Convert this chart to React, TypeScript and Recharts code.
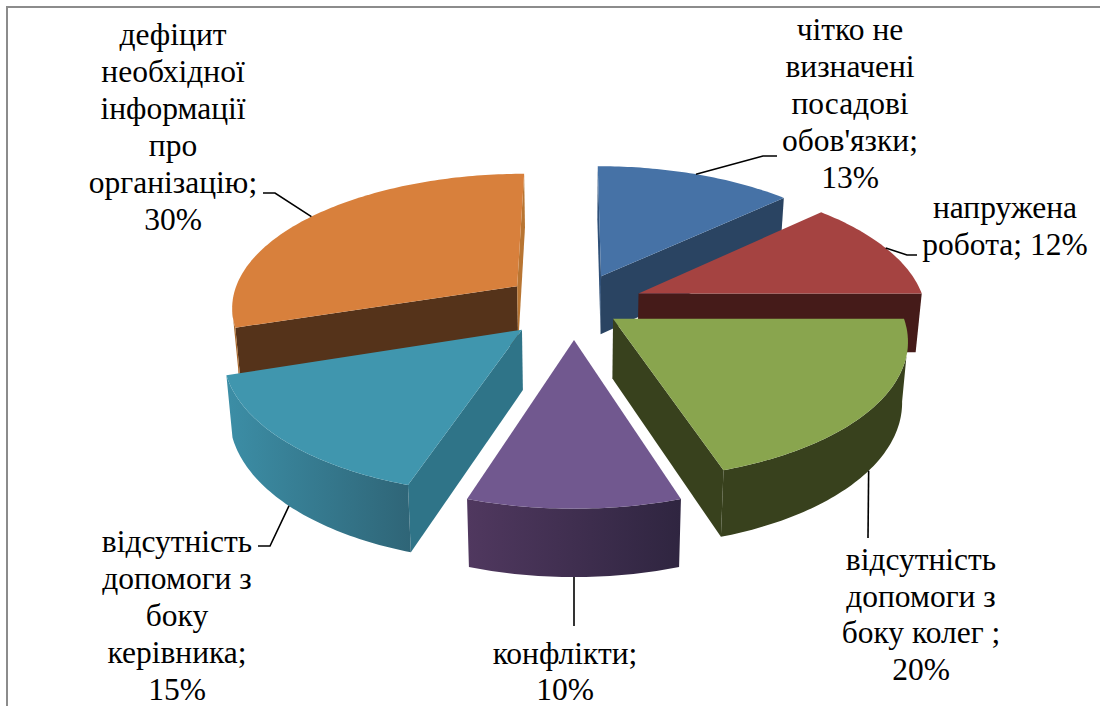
import React from 'react';
import { PieChart, Pie } from 'recharts';

// Slices in paint order: back-left slice first so the nearer ones overlap it.
const labelTemplates: string[][] = [
  ['дефіцит', 'необхідної', 'інформації', 'про', 'організацію;', '{v}'],
  ['чітко не', 'визначені', 'посадові', "обов'язки;", '{v}'],
  ['напружена', 'робота; {v}'],
  ['відсутність', 'допомоги з', 'боку колег ;', '{v}'],
  ['конфлікти;', '{v}'],
  ['відсутність', 'допомоги з', 'боку', 'керівника;', '{v}'],
];
const shares: number[] = [30, 13, 12, 20, 10, 15];

// Appearance of each slice, same order as above.
const topColors = ['#d8803c', '#4672a6', '#a54341', '#89a54e', '#71588f', '#4096ae'];
const startSideColors = ['#55331a', '#2f5078', '#451b19', '#38411d', '#4a3560', '#2f7488'];
const endSideColors = ['#b87532', '#2a4462', '#451b19', '#38411d', '#4a3560', '#2f7488'];
const rimColors: [string, string][] = [
  ['#a8692e', '#a8692e'],
  ['#2a4462', '#2a4462'],
  ['#451b19', '#451b19'],
  ['#38411d', '#38411d'],
  ['#50385f', '#2f2540'],
  ['#3c8ea6', '#2f6577'],
];
const explosions = [0.25, 0.245, 0.245, 0.166, 0.25, 0.25];

// Label blocks: centre x, first baseline, line step, and the leader line route.
const labelBoxes = [
  { x: 173, y: 45, step: 37 },
  { x: 850, y: 40, step: 37 },
  { x: 1005, y: 218, step: 37 },
  { x: 921, y: 570, step: 36.7 },
  { x: 565, y: 664, step: 36 },
  { x: 177, y: 552, step: 37 },
];
const leaderRoutes: { rim: boolean; via: [number, number][] }[] = [
  { rim: false, via: [[275, 193], [263, 193]] },
  { rim: false, via: [[763, 156], [777, 156]] },
  { rim: false, via: [[907, 255], [917, 255]] },
  { rim: true, via: [[868, 538]] },
  { rim: true, via: [[574, 626]] },
  { rim: true, via: [[270, 546], [258, 546]] },
];

const tableRows = shares.map((value, order) => ({ value, order }));

// Perspective of the tilted disc: the plane's vanishing point and depth terms.
const VANISH_X = 574;
const VANISH_Y = -632;
const WIDTH_SCALE = 0.306;
const DEPTH_BASE = 0.0010667;
const DEPTH_SLOPE = 0.000152;

type Pt = [number, number];

const projectDisc = (X: number, Z: number): Pt => {
  const t = 1 / (DEPTH_BASE + DEPTH_SLOPE * Z);
  return [VANISH_X + WIDTH_SCALE * X * t, t + VANISH_Y];
};

// The underside of the slab: verticals converge slightly and grow towards the viewer.
const dropToBase = ([x, y]: Pt): Pt => [x + (VANISH_X - x) * 0.0175, y + 45.6 + 0.0448 * y];

const toClockwise = (angle: number) => ((90 - angle) * Math.PI) / 180;

const rimPoint = (order: number, midAngle: number, angle: number): Pt => {
  const e = explosions[order];
  const m = toClockwise(midAngle);
  const a = toClockwise(angle);
  return projectDisc(e * Math.sin(m) + Math.sin(a), e * Math.cos(m) + Math.cos(a));
};

const apexPoint = (order: number, midAngle: number): Pt => {
  const e = explosions[order];
  const m = toClockwise(midAngle);
  return projectDisc(e * Math.sin(m), e * Math.cos(m));
};

const toPath = (pts: Pt[]) =>
  pts.map((p, i) => `${i ? 'L' : 'M'}${p[0].toFixed(2)},${p[1].toFixed(2)}`).join('') + 'Z';

const sideFace = (a: Pt, b: Pt) => toPath([a, b, dropToBase(b), dropToBase(a)]);

// A 3D slice built from the angles the Pie computed for this sector.
const renderSlice = (props: any) => {
  const order: number = props.payload?.order ?? props.order;
  const { startAngle, endAngle } = props;
  const mid = (startAngle + endAngle) / 2;
  const apex = apexPoint(order, mid);
  const steps = Math.max(2, Math.ceil(Math.abs(endAngle - startAngle)));
  const arc: Pt[] = [];
  for (let i = 0; i <= steps; i += 1) {
    arc.push(rimPoint(order, mid, startAngle + ((endAngle - startAngle) * i) / steps));
  }

  // Rim stretches that move leftwards in clockwise order face the viewer.
  const rimRuns: Pt[][] = [];
  let run: Pt[] = [];
  for (let i = 0; i < arc.length - 1; i += 1) {
    if (arc[i + 1][0] < arc[i][0]) {
      if (!run.length) run.push(arc[i]);
      run.push(arc[i + 1]);
    } else if (run.length) {
      rimRuns.push(run);
      run = [];
    }
  }
  if (run.length) rimRuns.push(run);

  const first = arc[0];
  const last = arc[arc.length - 1];
  const gradId = `rim-${order}`;
  return (
    <g>
      <defs>
        <linearGradient id={gradId} x1="0" y1="0" x2="1" y2="0">
          <stop offset="0" stopColor={rimColors[order][0]} />
          <stop offset="1" stopColor={rimColors[order][1]} />
        </linearGradient>
      </defs>
      {first[0] < apex[0] && <path d={sideFace(apex, first)} fill={startSideColors[order]} />}
      {apex[0] < last[0] && <path d={sideFace(last, apex)} fill={endSideColors[order]} />}
      {rimRuns.map((r, i) => (
        <path
          key={i}
          d={toPath([...r, ...r.map(dropToBase).reverse()])}
          fill={`url(#${gradId})`}
        />
      ))}
      <path d={toPath([apex, ...arc])} fill={topColors[order]} />
    </g>
  );
};

const renderLabel = (props: any) => {
  const order: number = props.payload?.order ?? props.order ?? props.index;
  const { startAngle, endAngle } = props;
  const mid = (startAngle + endAngle) / 2;
  const box = labelBoxes[order];
  const route = leaderRoutes[order];
  const onTop = rimPoint(order, mid, mid);
  const anchor = route.rim ? dropToBase(onTop) : onTop;
  const lines = labelTemplates[order].map((l) => l.replace('{v}', `${shares[order]}%`));
  return (
    <g key={order}>
      <polyline
        points={[anchor, ...route.via].map((p) => p.join(',')).join(' ')}
        fill="none"
        stroke="#000"
        strokeWidth={1.6}
      />
      {lines.map((line, i) => (
        <text
          key={i}
          x={box.x}
          y={box.y + i * box.step}
          textAnchor="middle"
          fontFamily="'Liberation Serif', serif"
          fontSize={31.5}
          fill="#000"
          style={{ whiteSpace: 'pre' }}
        >
          {line}
        </text>
      ))}
    </g>
  );
};

export default function App() {
  return (
    <div style={{ position: 'absolute', left: 0, top: 0, width: 1100, height: 706, overflow: 'hidden', background: '#fff' }}>
      <div
        style={{
          position: 'absolute',
          left: 6,
          top: 6,
          width: 1094,
          height: 700,
          boxSizing: 'border-box',
          borderTop: '2px solid #8c8c8c',
          borderLeft: '2px solid #8c8c8c',
        }}
      />
      <div style={{ position: 'absolute', left: 0, top: 0 }}>
        <PieChart width={1100} height={706} margin={{ top: 0, right: 0, bottom: 0, left: 0 }}>
          <Pie
            data={tableRows}
            dataKey="value"
            cx={574}
            cy={350}
            outerRadius={300}
            startAngle={198}
            endAngle={-162}
            stroke="none"
            isAnimationActive={false}
            shape={renderSlice}
            activeShape={renderSlice}
            inactiveShape={renderSlice}
            label={renderLabel}
            labelLine={false}
          />
        </PieChart>
      </div>
    </div>
  );
}
